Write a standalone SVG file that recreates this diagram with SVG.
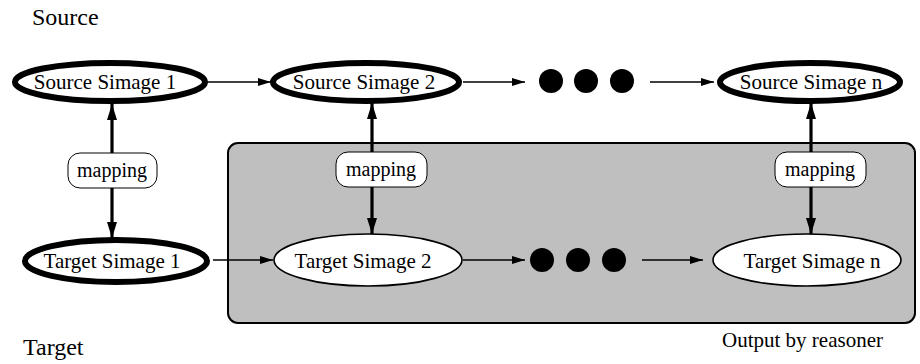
<svg xmlns="http://www.w3.org/2000/svg" width="920" height="364" viewBox="0 0 920 364">
<style>
text{font-family:"Liberation Serif","Times New Roman",serif;fill:#000}
.lbl{font-size:21px;text-anchor:middle}
.map{font-size:20px;text-anchor:middle}
.big{font-size:24px}
.thick{fill:#fff;stroke:#000;stroke-width:6}
.thin{fill:#fff;stroke:#000;stroke-width:1.6}
.mbox{fill:#fff;stroke:#000;stroke-width:1}
.h{stroke:#000;stroke-width:1.3;fill:none;marker-end:url(#ah)}
.v{stroke:#000;stroke-width:3.2;fill:none;marker-end:url(#av)}
.dot{fill:#000}
</style>
<defs>
<marker id="ah" markerUnits="userSpaceOnUse" markerWidth="13" markerHeight="8" refX="13" refY="4" orient="auto"><path d="M0,0 L13,4 L0,8 z" fill="#000"/></marker>
<marker id="av" markerUnits="userSpaceOnUse" markerWidth="16" markerHeight="10" refX="16" refY="5" orient="auto"><path d="M0,0 L16,5 L0,10 z" fill="#000"/></marker>
</defs>
<g id="reasoner-output">
<rect x="228" y="143" width="687" height="180" rx="10" fill="#bfbfbf" stroke="#000" stroke-width="2"/>
<text x="722" y="347" style="font-size:21px">Output by reasoner</text>
</g>
<text class="big" x="32" y="25">Source</text>
<text class="big" x="23" y="355">Target</text>
<g id="connectors">
<line class="h" x1="207" y1="82" x2="271" y2="82"/>
<line class="h" x1="463" y1="82" x2="525" y2="82"/>
<line class="h" x1="650" y1="82" x2="714" y2="82"/>
<line class="h" x1="213" y1="260" x2="273" y2="260"/>
<line class="h" x1="463" y1="260" x2="525" y2="260"/>
<line class="h" x1="642" y1="260" x2="703" y2="260"/>
<line class="v" x1="112" y1="153" x2="112" y2="104"/>
<line class="v" x1="112" y1="188" x2="112" y2="238"/>
<line class="v" x1="372" y1="152" x2="372" y2="103"/>
<line class="v" x1="372" y1="187" x2="372" y2="234"/>
<line class="v" x1="811" y1="152" x2="811" y2="103"/>
<line class="v" x1="811" y1="187" x2="811" y2="234"/>
</g>
<g id="source1"><ellipse class="thick" cx="110" cy="82" rx="95" ry="19"/><text class="lbl" x="105" y="89">Source Simage 1</text></g>
<g id="source2"><ellipse class="thick" cx="366" cy="82" rx="93" ry="19"/><text class="lbl" x="364" y="89">Source Simage 2</text></g>
<g id="source-dots"><circle class="dot" cx="551" cy="81" r="12"/><circle class="dot" cx="586" cy="81" r="12"/><circle class="dot" cx="622" cy="81" r="12"/></g>
<g id="sourcen"><ellipse class="thick" cx="810" cy="82" rx="90" ry="19"/><text class="lbl" x="811" y="89">Source Simage n</text></g>
<g id="mapping1"><rect class="mbox" x="68" y="153" width="89" height="35" rx="12"/><text class="map" x="112" y="177">mapping</text></g>
<g id="mapping2"><rect class="mbox" x="336" y="152" width="91" height="35" rx="12"/><text class="map" x="381" y="176">mapping</text></g>
<g id="mappingn"><rect class="mbox" x="775" y="152" width="91" height="35" rx="12"/><text class="map" x="820" y="176">mapping</text></g>
<g id="target1"><ellipse class="thick" cx="116" cy="261" rx="91" ry="21"/><text class="lbl" x="112" y="268">Target Simage 1</text></g>
<g id="target2"><ellipse class="thin" cx="368" cy="260" rx="94" ry="26"/><text class="lbl" x="363" y="268">Target Simage 2</text></g>
<g id="target-dots"><circle class="dot" cx="542" cy="260" r="12"/><circle class="dot" cx="578" cy="260" r="12"/><circle class="dot" cx="614" cy="260" r="12"/></g>
<g id="targetn"><ellipse class="thin" cx="807" cy="260" rx="94" ry="26"/><text class="lbl" x="812" y="268">Target Simage n</text></g>
</svg>
